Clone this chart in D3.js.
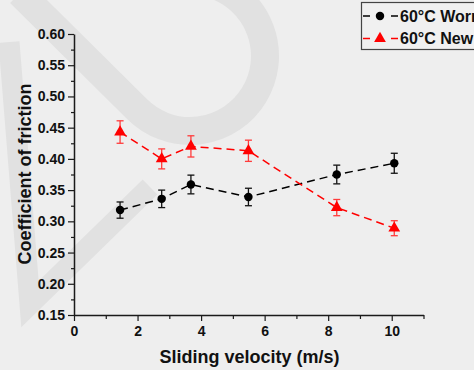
<!DOCTYPE html>
<html>
<head>
<meta charset="utf-8">
<script src="https://cdn.jsdelivr.net/npm/d3@7"></script>
<style>
  html, body { margin: 0; padding: 0; background: #eeeeee; }
  svg { display: block; }
</style>
</head>
<body>
<svg id="main-chart"></svg>
<script>
// sliding velocity (m/s)
const velocity = [1.45, 2.76, 3.68, 5.49, 8.27, 10.08];
const wornCOF  = [0.318, 0.336, 0.359, 0.339, 0.375, 0.393];
const wornErr  = [0.013, 0.014, 0.015, 0.014, 0.015, 0.016];
const newCOF   = [0.443, 0.400, 0.420, 0.413, 0.322, 0.289];
const newErr   = [0.018, 0.016, 0.017, 0.017, 0.013, 0.012];
const seriesNames = ["60°C Worn", "60°C New"];
const xTicks = [0, 2, 4, 6, 8, 10];
const xMinor = [1, 3, 5, 7, 9, 11];
const yTicks = [0.15, 0.20, 0.25, 0.30, 0.35, 0.40, 0.45, 0.50, 0.55, 0.60];
const yMinor = [0.175, 0.225, 0.275, 0.325, 0.375, 0.425, 0.475, 0.525, 0.575];

function plotchart()
{
  const width = 474;
  const height = 370;

  const svg = d3.select("#main-chart")
      .attr("width", width)
      .attr("height", height);

  svg.append("rect")
      .attr("width", width)
      .attr("height", height)
      .attr("fill", "#eeeeee");

  // faint watermark behind the plot
  const wm = svg.append("g")
      .attr("fill", "none")
      .attr("stroke", "#e1e1e1");
  const cx = 190, cy = 56, r = 75;
  const a0 = Math.PI * 0.75, a1 = -Math.PI * 0.4;
  wm.append("path")
      .attr("stroke-width", 28)
      .attr("d", `M 20 -7 L ${cx + r * Math.cos(a0)} ${cy + r * Math.sin(a0)} ` +
                 `A ${r} ${r} 0 1 0 ${cx + r * Math.cos(a1)} ${cy + r * Math.sin(a1)}`);
  wm.append("path")
      .attr("stroke-width", 21)
      .attr("stroke-linejoin", "miter")
      .attr("d", "M 9 42 L 30 304 L 150 187");

  const x = d3.scaleLinear().domain([0, 11]).range([74, 423.5]);
  const y = d3.scaleLinear().domain([0.15, 0.60]).range([315, 34]);

  const axisColor = "#1a1a1a";

  const styleAxis = g => {
    g.select(".domain").attr("stroke", axisColor).attr("stroke-width", 1.5);
    g.selectAll(".tick line").attr("stroke", axisColor).attr("stroke-width", 1.2);
    g.selectAll(".tick text")
        .attr("fill", "#111")
        .attr("font-family", "'Liberation Sans', Arial, sans-serif")
        .attr("font-weight", "bold")
        .attr("font-size", 14);
  };

  // minor ticks first, then major axes
  svg.append("g")
      .attr("transform", `translate(0,${y(0.15)})`)
      .call(d3.axisBottom(x).tickValues(xMinor).tickSize(4).tickFormat(""))
      .call(g => g.select(".domain").remove())
      .call(styleAxis);
  svg.append("g")
      .attr("transform", `translate(${x(0)},0)`)
      .call(d3.axisLeft(y).tickValues(yMinor).tickSize(3).tickFormat(""))
      .call(g => g.select(".domain").remove())
      .call(styleAxis);

  svg.append("g")
      .attr("transform", `translate(0,${y(0.15)})`)
      .call(d3.axisBottom(x).tickValues(xTicks).tickSize(6).tickSizeOuter(0).tickPadding(5))
      .call(styleAxis);
  svg.append("g")
      .attr("transform", `translate(${x(0)},0)`)
      .call(d3.axisLeft(y).tickValues(yTicks).tickSize(6).tickSizeOuter(0).tickPadding(3)
            .tickFormat(d3.format(".2f")))
      .call(styleAxis);

  // axis titles
  svg.append("text")
      .attr("x", 249.5)
      .attr("y", 363)
      .attr("text-anchor", "middle")
      .attr("font-family", "'Liberation Sans', Arial, sans-serif")
      .attr("font-weight", "bold")
      .attr("font-size", 18)
      .attr("fill", "#111")
      .text("Sliding velocity (m/s)");
  svg.append("text")
      .attr("transform", "translate(31,174) rotate(-90)")
      .attr("text-anchor", "middle")
      .attr("font-family", "'Liberation Sans', Arial, sans-serif")
      .attr("font-weight", "bold")
      .attr("font-size", 18)
      .attr("fill", "#111")
      .text("Coefficient of friction");

  const series = [
    {name: seriesNames[0], values: wornCOF, errs: wornErr, color: "#000000",
     errColor: "#111111", symbol: d3.symbolCircle, size: 56},
    {name: seriesNames[1], values: newCOF, errs: newErr, color: "#ff0000",
     errColor: "#ff3b3b", symbol: d3.symbolTriangle, size: 60}
  ];

  const line = d3.line()
      .x(d => x(d.v))
      .y(d => y(d.c));

  series.forEach(s => {
    const pts = velocity.map((v, i) => ({v: v, c: s.values[i], e: s.errs[i]}));
    const g = svg.append("g");

    g.append("path")
        .datum(pts)
        .attr("fill", "none")
        .attr("stroke", s.color)
        .attr("stroke-width", 1.5)
        .attr("stroke-dasharray", "8,5")
        .attr("d", line);

    const eb = g.selectAll("g.err")
      .data(pts)
      .join("g")
        .attr("class", "err")
        .attr("stroke", s.errColor)
        .attr("stroke-width", 1.3);
    eb.append("line")
        .attr("x1", d => x(d.v)).attr("x2", d => x(d.v))
        .attr("y1", d => y(d.c - d.e)).attr("y2", d => y(d.c + d.e));
    eb.append("line")
        .attr("x1", d => x(d.v) - 3.5).attr("x2", d => x(d.v) + 3.5)
        .attr("y1", d => y(d.c + d.e)).attr("y2", d => y(d.c + d.e));
    eb.append("line")
        .attr("x1", d => x(d.v) - 3.5).attr("x2", d => x(d.v) + 3.5)
        .attr("y1", d => y(d.c - d.e)).attr("y2", d => y(d.c - d.e));

    g.selectAll("path.mark")
      .data(pts)
      .join("path")
        .attr("class", "mark")
        .attr("fill", s.color)
        .attr("transform", d => `translate(${x(d.v)},${y(d.c)})`)
        .attr("d", d3.symbol().type(s.symbol).size(s.size));
  });

  // legend (runs off the right edge like the original)
  const legend = svg.append("g");
  legend.append("rect")
      .attr("x", 361.5)
      .attr("y", 2.5)
      .attr("width", 140)
      .attr("height", 47)
      .attr("fill", "#f0f0f0")
      .attr("stroke", "#444")
      .attr("stroke-width", 1.2);

  const rows = legend.selectAll("g.row")
    .data(series)
    .join("g")
      .attr("class", "row")
      .attr("transform", (d, i) => `translate(0,${i === 0 ? 16 : 38.5})`);
  rows.append("line")
      .attr("x1", 363).attr("x2", 398)
      .attr("stroke", d => d.color)
      .attr("stroke-width", 1.5)
      .attr("stroke-dasharray", "7,21");
  rows.append("path")
      .attr("transform", "translate(380,0)")
      .attr("fill", d => d.color)
      .attr("d", d => d3.symbol().type(d.symbol).size(d.size)());
  rows.append("text")
      .attr("x", 400)
      .attr("y", 5.7)
      .attr("font-family", "'Liberation Sans', Arial, sans-serif")
      .attr("font-weight", "bold")
      .attr("font-size", 16)
      .attr("fill", "#111")
      .text(d => d.name);
}

plotchart();
</script>
</body>
</html>
